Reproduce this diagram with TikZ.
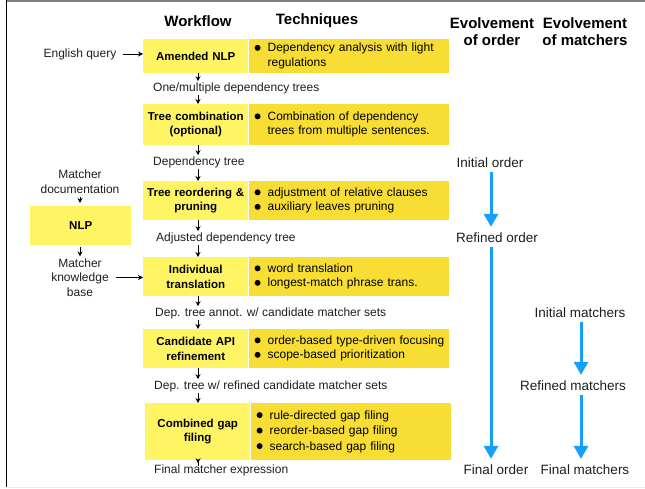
\documentclass[tikz,border=0pt]{standalone}
\usepackage{fontspec}
\setmainfont{Liberation Sans}
\usetikzlibrary{arrows.meta,calc}
\definecolor{lightY}{RGB}{255,245,100}
\definecolor{darkY}{RGB}{248,222,52}
\definecolor{flowblue}{RGB}{20,160,250}
\definecolor{txt}{RGB}{30,30,30}
\newcommand\bulmark{\tikz[baseline=-4pt]\fill[black] (0,0) circle (3pt);}
\begin{document}
\begin{tikzpicture}[x=1pt,y=-1pt,
  wf/.style={fill=lightY, anchor=north west, minimum width=105pt, text width=103pt, align=center, inner sep=0pt, font=\fontsize{11.5}{14.5}\selectfont\bfseries},
  tq/.style={fill=darkY, anchor=north west, minimum width=200pt, text width=188pt, inner xsep=5pt, inner ysep=0pt, align=left, font=\fontsize{12}{14.5}\selectfont},
  lab/.style={anchor=west, inner sep=1pt, text=txt, font=\fontsize{12}{14}\selectfont},
  side/.style={align=center, inner sep=1pt, text=txt, font=\fontsize{12}{14.5}\selectfont},
  head/.style={align=center, inner sep=0pt, font=\fontsize{15}{17}\selectfont\bfseries},
  evo/.style={inner sep=1pt, text=txt, font=\fontsize{13.5}{16}\selectfont},
  sarrow/.style={-{Stealth[length=5pt,width=5pt]}, line width=0.9pt},
  barrow/.style={-{Triangle[length=13pt,width=14pt]}, line width=3pt, flowblue},
]
\useasboundingbox (0,0) rectangle (645,489);
% frame
\draw[line width=2pt, gray] (6,1) -- (645,1);
\draw[line width=1.2pt, black] (6.5,0) -- (6.5,487);
\draw[line width=1pt, black!7] (6.5,487.5) -- (645,487.5);

% headers
\node[head] (hw) at (198,21) {Workflow};
\node[head] (ht) at (317,21) {Techniques};
\node[head] (ho) at (492,31.5) {Evolvement\\of order};
\node[head] (hm) at (585,31.5) {Evolvement\\of matchers};

\coordinate (wcol) at (198,0);

% box 1
\node[wf, minimum height=34pt] (a1) at (143,39) {Amended NLP};
\node[tq, minimum height=34pt] (t1) at (a1.north east) {\begin{tabular}{@{}l@{\hspace{7pt}}l@{}}\bulmark & Dependency analysis with light\\ & regulations\end{tabular}};
\node[lab] (l1) at (152,88) {One/multiple dependency trees};

% box 2
\node[wf, minimum height=41pt] (a2) at (143,104) {Tree combination\\(optional)};
\node[tq, minimum height=41pt] (t2) at (a2.north east) {\begin{tabular}{@{}l@{\hspace{7pt}}l@{}}\bulmark & Combination of dependency\\ & trees from multiple sentences.\end{tabular}};
\node[lab] (l2) at (152,162) {Dependency tree};

% box 3
\node[wf, minimum height=39pt] (a3) at (143,181) {Tree reordering \&\\pruning};
\node[tq, minimum height=39pt] (t3) at (a3.north east) {\begin{tabular}{@{}l@{\hspace{7pt}}l@{}}\bulmark & adjustment of relative clauses\\ \bulmark & auxiliary leaves pruning\end{tabular}};
\node[lab] (l3) at (155,238) {Adjusted dependency tree};

% box 4
\node[wf, minimum height=39pt] (a4) at (143,257) {Individual\\translation};
\node[tq, minimum height=39pt] (t4) at (a4.north east) {\begin{tabular}{@{}l@{\hspace{7pt}}l@{}}\bulmark & word translation\\ \bulmark & longest-match phrase trans.\end{tabular}};
\node[lab] (l4) at (154,313) {Dep. tree annot. w/ candidate matcher sets};

% box 5
\node[wf, minimum height=39pt] (a5) at (143,329) {Candidate API\\refinement};
\node[tq, minimum height=39pt] (t5) at (a5.north east) {\begin{tabular}{@{}l@{\hspace{7pt}}l@{}}\bulmark & order-based type-driven focusing\\ \bulmark & scope-based prioritization\end{tabular}};
\node[lab] (l5) at (153,386) {Dep. tree w/ refined candidate matcher sets};

% box 6
\node[wf, minimum height=57pt] (a6) at (145,403) {Combined gap\\filing};
\node[tq, minimum height=57pt] (t6) at (a6.north east) {\begin{tabular}{@{}l@{\hspace{7pt}}l@{}}\bulmark & rule-directed gap filing\\[1pt] \bulmark & reorder-based gap filing\\[1pt] \bulmark & search-based gap filing\end{tabular}};
\node[lab] (l6) at (153,470) {Final matcher expression};

% workflow arrows
\draw[sarrow] (wcol |- a1.south) -- (wcol |- l1.north);
\draw[sarrow] (wcol |- l1.south) -- (wcol |- a2.north);
\draw[sarrow] (wcol |- a2.south) -- (wcol |- l2.north);
\draw[sarrow] (wcol |- l2.south) -- (wcol |- a3.north);
\draw[sarrow] (wcol |- a3.south) -- (wcol |- l3.north);
\draw[sarrow] (wcol |- l3.south) -- (wcol |- a4.north);
\draw[sarrow] (wcol |- a4.south) -- (wcol |- l4.north);
\draw[sarrow] (wcol |- l4.south) -- (wcol |- a5.north);
\draw[sarrow] (wcol |- a5.south) -- (wcol |- l5.north);
\draw[sarrow] (wcol |- l5.south) -- (wcol |- a6.north);
\draw[sarrow, shorten <=-6pt] (wcol |- a6.south) -- (wcol |- l6.north);

% left side
\node[side] (eq) at (80,54) {English query};
\draw[sarrow, shorten <=5pt] (eq.east) -- (eq.east -| a1.west);
\node[side] (md) at (80,181.5) {Matcher\\documentation};
\node[wf, minimum width=101pt, text width=95pt, minimum height=39pt] (nlp) at (30,206) {NLP};
\node[side] (mk) at (80,277.5) {Matcher\\knowledge\\base};
\draw[sarrow, shorten <=3pt, shorten >=3pt] (md.south) -- (md.south |- nlp.north);
\draw[sarrow, shorten <=2pt, shorten >=1pt] (md.south |- nlp.south) -- (mk.north);
\draw[sarrow, shorten <=6pt] (mk.east) -- (mk.east -| a4.west);

% evolvement of order
\coordinate (ocol) at (491,0);
\node[evo] (io) at (490,163) {Initial order};
\node[evo] (ro) at (497,238) {Refined order};
\node[evo] (fo) at (496,470) {Final order};
\draw[barrow, shorten <=3pt, shorten >=5pt] (ocol |- io.south) -- (ocol |- ro.north);
\draw[barrow, shorten <=3pt, shorten >=5pt] (ocol |- ro.south) -- (ocol |- fo.north);

% evolvement of matchers
\coordinate (mcol) at (581,0);
\node[evo] (im) at (580,313) {Initial matchers};
\node[evo] (rm) at (573,386) {Refined matchers};
\node[evo] (fm) at (585,470) {Final matchers};
\draw[barrow, shorten <=3pt, shorten >=5pt] (mcol |- im.south) -- (mcol |- rm.north);
\draw[barrow, shorten <=3pt, shorten >=5pt] (mcol |- rm.south) -- (mcol |- fm.north);
\end{tikzpicture}
\end{document}
